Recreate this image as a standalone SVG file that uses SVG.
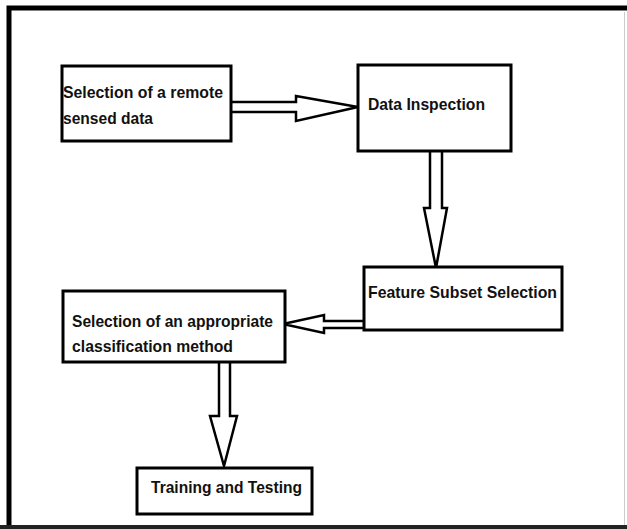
<svg xmlns="http://www.w3.org/2000/svg" width="627" height="529" viewBox="0 0 627 529">
<style>
.box{fill:#fff;stroke:#000;stroke-width:3}
.lbl{font-family:"Liberation Sans",Arial,sans-serif;font-weight:bold;font-size:17px;fill:#111}
.arr{fill:#fff;stroke:#000;stroke-width:2.5;stroke-linejoin:miter}
</style>
<rect x="0" y="0" width="627" height="529" fill="#fff"/>
<path d="M9,529 L9,8 L627,8" fill="none" stroke="#000" stroke-width="5"/>
<line x1="0" y1="527" x2="627" y2="527" stroke="#222" stroke-width="4"/>
<line x1="624.5" y1="12" x2="624.5" y2="525" stroke="#ccc" stroke-width="1"/>
<g id="connectors">
<path class="arr" d="M232,102 L296,102 L296,96 L358,107 L296,121 L296,112 L232,112"/>
<path class="arr" d="M430,151 L430,208 L424,208 L436,268 L447,208 L442,208 L442,151"/>
<path class="arr" d="M364,321 L324,321 L324,315 L283,324 L324,333 L324,328 L364,328"/>
<path class="arr" d="M219,362 L219,416 L210,416 L224,466 L237,416 L230,416 L230,362"/>
</g>
<g id="n1">
<rect class="box" x="62" y="66" width="169" height="75"/>
<text class="lbl" x="63" y="98" textLength="160" lengthAdjust="spacingAndGlyphs">Selection of a remote</text>
<text class="lbl" x="63" y="124" textLength="90" lengthAdjust="spacingAndGlyphs">sensed data</text>
</g>
<g id="n2">
<rect class="box" x="358" y="65" width="153" height="86"/>
<text class="lbl" x="368" y="110" textLength="117" lengthAdjust="spacingAndGlyphs">Data Inspection</text>
</g>
<g id="n3">
<rect class="box" x="364" y="267" width="198" height="63"/>
<text class="lbl" x="368" y="298" textLength="189" lengthAdjust="spacingAndGlyphs">Feature Subset Selection</text>
</g>
<g id="n4">
<rect class="box" x="63" y="291" width="222" height="71"/>
<text class="lbl" x="72" y="327" textLength="201" lengthAdjust="spacingAndGlyphs">Selection of an appropriate</text>
<text class="lbl" x="72" y="352" textLength="161" lengthAdjust="spacingAndGlyphs">classification method</text>
</g>
<g id="n5">
<rect class="box" x="137" y="468" width="175" height="46"/>
<text class="lbl" x="151" y="493" textLength="151" lengthAdjust="spacingAndGlyphs">Training and Testing</text>
</g>
</svg>
